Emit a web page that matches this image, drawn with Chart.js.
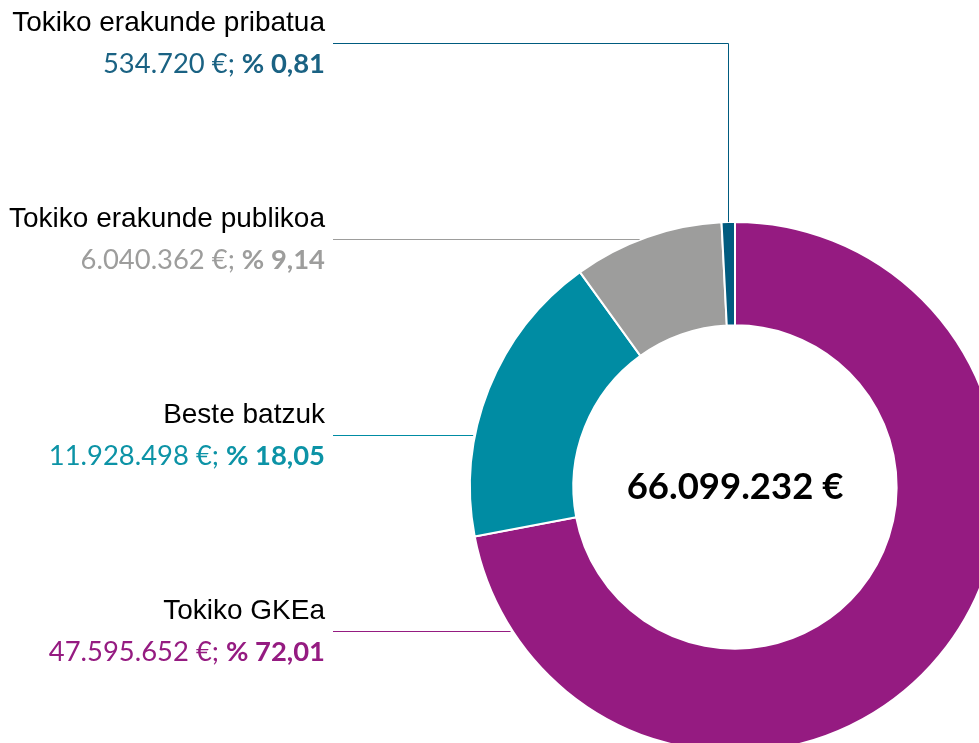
<!DOCTYPE html>
<html>
<head>
<meta charset="utf-8">
<script src="https://cdn.jsdelivr.net/npm/chart.js@4/dist/chart.umd.min.js"></script>
<style>
  html, body { margin: 0; padding: 0; background: #fff; }
  #wrap { position: relative; width: 979px; height: 743px; overflow: hidden; }
  #donut { position: absolute; left: 0; top: 0; }
</style>
</head>
<body>
<div id="wrap"><canvas id="donut" width="1100" height="850"></canvas></div>
<script>
// data, clockwise from 12 o'clock
var labels   = ['Tokiko GKEa', 'Beste batzuk', 'Tokiko erakunde publikoa', 'Tokiko erakunde pribatua'];
var amounts  = [47595652, 11928498, 6040362, 534720];
var percents = ['72,01', '18,05', '9,14', '0,81'];
var total    = 66099232;
var colors   = ['#951b81', '#008ca3', '#9d9d9c', '#005b7f'];
var textColors = ['#951b81', '#0c93a6', '#9d9d9c', '#1a6283'];
var labelY   = [631, 435, 239, 43];

function euro(n) {
    return String(n).replace(/\B(?=(\d{3})+(?!\d))/g, '.') + ' €';
}

var calloutPlugin = {
    id: 'callouts',
    afterDraw: function (chart) {
        var ctx = chart.ctx;
        var meta = chart.getDatasetMeta(0);
        var right = 325;

        meta.data.forEach(function (arc, i) {
            var y = labelY[i];
            var cx = arc.x, cy = arc.y, r = arc.outerRadius;

            // leader line
            ctx.save();
            ctx.strokeStyle = colors[i];
            ctx.lineWidth = 1;
            ctx.beginPath();
            ctx.moveTo(right + 8, y + 0.5);
            if (y < cy - r) {
                var mid = (arc.startAngle + arc.endAngle) / 2;
                var px = Math.round(cx + r * Math.cos(mid)) + 0.5;
                var py = cy + r * Math.sin(mid);
                ctx.lineTo(px, y + 0.5);
                ctx.lineTo(px, py);
            } else {
                var ex = cx - Math.sqrt(r * r - (y - cy) * (y - cy)) - 2;
                ctx.lineTo(ex, y + 0.5);
            }
            ctx.stroke();

            // name
            ctx.textAlign = 'right';
            ctx.textBaseline = 'alphabetic';
            ctx.fillStyle = '#000';
            ctx.font = '28px "Liberation Sans", Arial, sans-serif';
            ctx.fillText(labels[i], right, y - 12);

            // value; percent
            var bold = '% ' + percents[i];
            ctx.fillStyle = textColors[i];
            ctx.font = 'bold 27.4px Lato, sans-serif';
            var bw = ctx.measureText(bold).width;
            ctx.fillText(bold, right, y + 30);
            ctx.font = '27.4px Lato, sans-serif';
            ctx.fillText(euro(amounts[i]) + '; ', right - bw, y + 30);
            ctx.restore();
        });

        // total in the hole
        var a = meta.data[0];
        ctx.save();
        ctx.textAlign = 'center';
        ctx.textBaseline = 'middle';
        ctx.fillStyle = '#000';
        ctx.font = 'bold 36.5px Lato, sans-serif';
        ctx.fillText(euro(total), a.x, a.y);
        ctx.restore();
    }
};

new Chart(document.getElementById('donut'), {
    type: 'doughnut',
    data: {
        labels: labels,
        datasets: [{
            data: amounts,
            backgroundColor: colors,
            borderColor: '#ffffff',
            borderWidth: 2
        }]
    },
    options: {
        responsive: false,
        animation: false,
        events: [],
        cutout: '61%',
        layout: { padding: { left: 469, top: 221, right: 99, bottom: 97 } },
        plugins: {
            legend: { display: false },
            tooltip: { enabled: false }
        }
    },
    plugins: [calloutPlugin]
});
</script>
</body>
</html>
